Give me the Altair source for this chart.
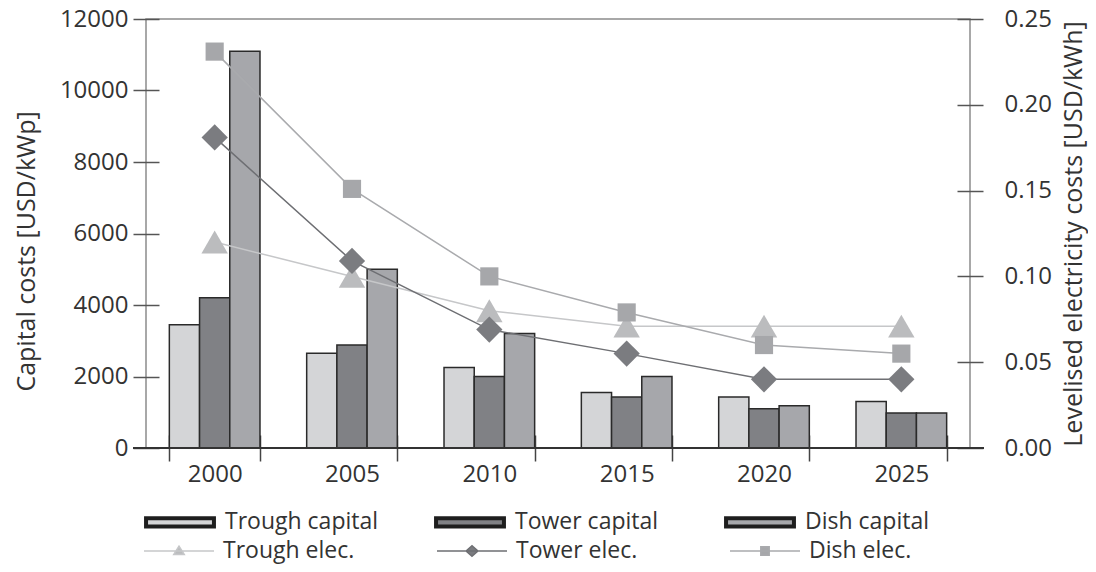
import altair as alt
import pandas as pd

years = ["2000", "2005", "2010", "2015", "2020", "2025"]

cap_names = ["Trough capital", "Tower capital", "Dish capital"]
trough_capital = [3450, 2650, 2250, 1550, 1430, 1300]
tower_capital = [4200, 2880, 2000, 1430, 1100, 980]
dish_capital = [11100, 5000, 3200, 2000, 1180, 980]

elec_names = ["Trough elec.", "Tower elec.", "Dish elec."]
trough_elec = [0.120, 0.100, 0.080, 0.071, 0.071, 0.071]
tower_elec = [0.181, 0.109, 0.069, 0.055, 0.040, 0.040]
dish_elec = [0.231, 0.151, 0.100, 0.079, 0.060, 0.055]

left_ticks = [0, 2000, 4000, 6000, 8000, 10000, 12000]
right_ticks = [0.0, 0.05, 0.10, 0.15, 0.20, 0.25]

cap_colors = ["#d4d5d7", "#808185", "#a6a7ab"]
line_colors = ["#c6c7c9", "#6e6f73", "#a9aaad"]
marker_colors = ["#bbbcbe", "#7b7c80", "#a6a7aa"]
marker_shapes = ["triangle-up", "diamond", "square"]
marker_sizes = [700, 690, 330]

FONT = "Open Sans"
TXT = "#333333"

cap_rows = []
for name, vals in zip(cap_names, [trough_capital, tower_capital, dish_capital]):
    for y, v in zip(years, vals):
        cap_rows.append({"year": y, "cap_series": name, "value": v})
cap_df = pd.DataFrame(cap_rows)

elec_rows = []
for name, vals in zip(elec_names, [trough_elec, tower_elec, dish_elec]):
    for y, v in zip(years, vals):
        elec_rows.append({"year": y, "elec_series": name, "value": v})
elec_df = pd.DataFrame(elec_rows)

x_axis = alt.Axis(title=None, orient="bottom", offset=-13, tickSize=26, tickBand="extent",
                  domain=False, labelAngle=0, labelPadding=1, tickColor="#444444", tickWidth=1.5,
                  grid=False)
xenc = alt.X("year:N", sort=years, axis=x_axis,
             scale=alt.Scale(paddingInner=0.34, paddingOuter=0.17))

left_axis = alt.Axis(title="Capital costs [USD/kWp]", values=left_ticks, format="d", orient="left",
                     offset=-13, tickSize=26, domain=False, labelPadding=5, titlePadding=20,
                     titleAngle=270, titleY=232, tickColor="#555555", tickWidth=1.5, grid=False)
right_axis = alt.Axis(title="Levelised electricity costs [USD/kWh]", values=right_ticks, format=".2f",
                      orient="right", offset=-13, tickSize=26, domain=False, labelPadding=21,
                      titlePadding=10, titleAngle=270, titleBaseline="top",
                      tickColor="#555555", tickWidth=1.5, grid=False)

bar_path = "M-0.97,-0.12H0.97V0.12H-0.97Z"
bars_legend = alt.Legend(
    title=None, orient="none", legendX=-3, legendY=466, direction="horizontal", columns=3,
    symbolType=bar_path, symbolSize=4900, symbolStrokeWidth=4, symbolStrokeColor="#1e1e1e",
    labelOffset=8, columnPadding=49, gridAlign="all", padding=0,
    labelFont=FONT, labelFontSize=23, labelColor=TXT,
)

legend_paths = [
    "M-1,0H1M0,-0.14L0.15,0.1L-0.15,0.1Z",
    "M-1,0H1M-0.17,0L0,-0.15L0.17,0L0,0.15Z",
    "M-1,0H1M-0.12,-0.12H0.12V0.12H-0.12Z",
]


def by_series(options):
    return (f"datum.value === '{elec_names[0]}' ? '{options[0]}' : "
            f"datum.value === '{elec_names[1]}' ? '{options[1]}' : '{options[2]}'")


lines_legend = alt.Legend(
    title=None, orient="none", legendX=-3, legendY=496, direction="horizontal", columns=3,
    symbolType={"expr": by_series(legend_paths)}, symbolSize=4900, symbolStrokeWidth=1.5,
    symbolFillColor={"expr": by_series(marker_colors)},
    labelOffset=8, columnPadding=79, gridAlign="all", padding=0,
    labelFont=FONT, labelFontSize=23, labelColor=TXT,
)

bars = alt.Chart(cap_df).mark_bar(stroke="#2a2a2a", strokeWidth=1.5).encode(
    x=xenc,
    xOffset=alt.XOffset("cap_series:N", sort=cap_names),
    y=alt.Y("value:Q", scale=alt.Scale(domain=[0, 12000], nice=False), axis=left_axis),
    fill=alt.Fill("cap_series:N", scale=alt.Scale(domain=cap_names, range=cap_colors),
                  legend=bars_legend),
)

baseline = alt.Chart(pd.DataFrame({"v": [0]})).mark_rule(color="#333333", strokeWidth=2).encode(
    y=alt.datum(0), x=alt.value(-13), x2=alt.value(838),
)

yr = alt.Y("value:Q", scale=alt.Scale(domain=[0, 0.25], nice=False), axis=right_axis)

lines = alt.Chart(elec_df).mark_line(strokeWidth=1.5).encode(
    x=xenc, y=yr,
    stroke=alt.Stroke("elec_series:N", scale=alt.Scale(domain=elec_names, range=line_colors),
                      legend=lines_legend),
)

point_layers = []
for name, shp, sz, col in zip(elec_names, marker_shapes, marker_sizes, marker_colors):
    point_layers.append(
        alt.Chart(elec_df).transform_filter(alt.datum.elec_series == name)
        .mark_point(filled=True, opacity=1, shape=shp, size=sz, color=col)
        .encode(x=xenc, y=yr)
    )

chart = alt.layer(
    alt.layer(bars, baseline),
    alt.layer(lines, *point_layers),
).resolve_scale(y="independent").properties(
    width=824, height=429, background="white",
    autosize=alt.AutoSizeParams(type="none"),
    padding={"left": 138, "top": 11, "right": 118, "bottom": 116},
).configure_view(
    stroke="#8c8c8c", strokeWidth=1.5
).configure_axis(
    labelFont=FONT, labelFontSize=24, labelColor=TXT,
    titleFont=FONT, titleFontSize=25, titleFontWeight="normal", titleColor=TXT,
)

chart.save("out.html", embed_options={"renderer": "svg", "actions": False})
